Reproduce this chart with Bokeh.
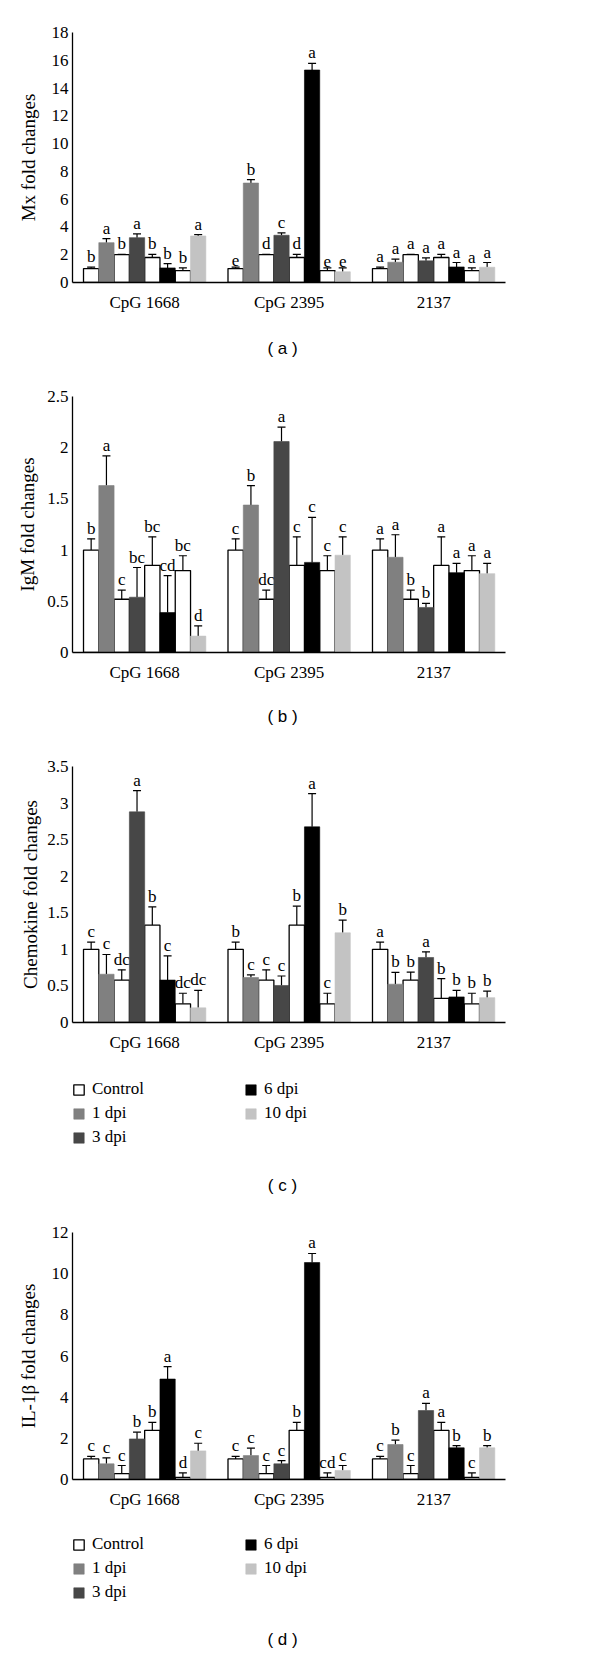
from bokeh.plotting import figure
from bokeh.models import (ColumnDataSource, Range1d, FixedTicker, Whisker, TeeHead,
                          Label, Legend, LegendItem)
from bokeh.layouts import column
from bokeh.embed import file_html
from bokeh.resources import INLINE
from bokeh.core.properties import value

# ---------------- data ----------------
groups = ["CpG 1668", "CpG 2395", "2137"]
bar_treatments = ["Control", "1 dpi", "Control", "3 dpi", "Control", "6 dpi", "Control", "10 dpi"]
treatments = ["Control", "1 dpi", "3 dpi", "6 dpi", "10 dpi"]

# (a) Mx
mx_mean = [[1.0, 2.87, 2.0, 3.23, 1.8, 1.05, 0.86, 3.35],
           [1.0, 7.16, 2.0, 3.4, 1.8, 15.3, 0.86, 0.77],
           [1.0, 1.46, 2.0, 1.56, 1.8, 1.12, 0.86, 1.1]]
mx_err = [[0.1, 0.29, 0.02, 0.27, 0.23, 0.31, 0.19, 0.1],
          [0.1, 0.24, 0.02, 0.17, 0.23, 0.47, 0.19, 0.28],
          [0.1, 0.22, 0.02, 0.21, 0.23, 0.32, 0.19, 0.34]]
mx_letters = [["b", "a", "b", "a", "b", "b", "b", "a"],
              ["e", "b", "d", "c", "d", "a", "e", "e"],
              ["a", "a", "a", "a", "a", "a", "a", "a"]]
mx_ticks = [0, 2, 4, 6, 8, 10, 12, 14, 16, 18]
mx_tick_labels = ["0", "2", "4", "6", "8", "10", "12", "14", "16", "18"]

# (b) IgM
igm_mean = [[1.0, 1.63, 0.52, 0.54, 0.85, 0.39, 0.8, 0.16],
            [1.0, 1.44, 0.52, 2.06, 0.85, 0.88, 0.8, 0.95],
            [1.0, 0.93, 0.52, 0.44, 0.85, 0.78, 0.8, 0.77]]
igm_err = [[0.11, 0.29, 0.09, 0.29, 0.28, 0.36, 0.145, 0.10],
           [0.11, 0.19, 0.09, 0.14, 0.28, 0.44, 0.145, 0.18],
           [0.11, 0.22, 0.09, 0.04, 0.28, 0.09, 0.145, 0.10]]
igm_letters = [["b", "a", "c", "bc", "bc", "cd", "bc", "d"],
               ["c", "b", "dc", "a", "c", "c", "c", "c"],
               ["a", "a", "b", "b", "a", "a", "a", "a"]]
igm_ticks = [0, 0.5, 1, 1.5, 2, 2.5]
igm_tick_labels = ["0", "0.5", "1", "1.5", "2", "2.5"]

# (c) Chemokine
chem_mean = [[1.0, 0.66, 0.58, 2.88, 1.33, 0.58, 0.255, 0.2],
             [1.0, 0.615, 0.58, 0.506, 1.33, 2.675, 0.255, 1.226],
             [1.0, 0.524, 0.58, 0.889, 0.33, 0.35, 0.255, 0.34]]
chem_err = [[0.10, 0.27, 0.14, 0.29, 0.25, 0.33, 0.145, 0.24],
            [0.10, 0.035, 0.14, 0.13, 0.26, 0.455, 0.145, 0.175],
            [0.10, 0.16, 0.11, 0.077, 0.27, 0.09, 0.145, 0.09]]
chem_letters = [["c", "c", "dc", "a", "b", "c", "dc", "dc"],
                ["b", "c", "c", "c", "b", "a", "c", "b"],
                ["a", "b", "b", "a", "b", "b", "b", "b"]]
chem_ticks = [0, 0.5, 1, 1.5, 2, 2.5, 3, 3.5]
chem_tick_labels = ["0", "0.5", "1", "1.5", "2", "2.5", "3", "3.5"]

# (d) IL-1beta
il_mean = [[1.0, 0.76, 0.29, 1.97, 2.39, 4.88, 0.1, 1.39],
           [1.0, 1.16, 0.29, 0.76, 2.39, 10.54, 0.1, 0.44],
           [1.0, 1.70, 0.29, 3.35, 2.39, 1.54, 0.1, 1.54]]
il_err = [[0.12, 0.29, 0.39, 0.33, 0.39, 0.6, 0.22, 0.37],
          [0.12, 0.36, 0.39, 0.16, 0.39, 0.44, 0.22, 0.24],
          [0.12, 0.21, 0.39, 0.35, 0.39, 0.11, 0.22, 0.11]]
il_letters = [["c", "c", "c", "b", "b", "a", "d", "c"],
              ["c", "c", "c", "c", "b", "a", "cd", "c"],
              ["c", "b", "c", "a", "a", "b", "c", "b"]]
il_ticks = [0, 2, 4, 6, 8, 10, 12]
il_tick_labels = ["0", "2", "4", "6", "8", "10", "12"]

# ---------------- styles ----------------
FILL = {"Control": "#ffffff", "1 dpi": "#808080", "3 dpi": "#474747",
        "6 dpi": "#000000", "10 dpi": "#c3c3c3"}
LINE = {"Control": "#000000", "1 dpi": "#808080", "3 dpi": "#474747",
        "6 dpi": "#000000", "10 dpi": "#c3c3c3"}
SERIF = "Liberation Serif"
SANS = "Liberation Sans"
GROUP_PITCH = 9.45
WIDTH = 592
LEFT = 72
FRAME_W = 433
RIGHT = WIDTH - LEFT - FRAME_W
MAIN_BOTTOM = 40

panels = [
    dict(mean=mx_mean, err=mx_err, letters=mx_letters, ticks=mx_ticks, tick_labels=mx_tick_labels,
         ylabel="Mx fold changes", top=32, frame=250, ylab_standoff=10,
         foot_h=50, tag="( a )", tag_y=26, legend=False, legend_top=0),
    dict(mean=igm_mean, err=igm_err, letters=igm_letters, ticks=igm_ticks, tick_labels=igm_tick_labels,
         ylabel="IgM fold changes", top=24, frame=256, ylab_standoff=6,
         foot_h=48, tag="( b )", tag_y=24, legend=False, legend_top=0),
    dict(mean=chem_mean, err=chem_err, letters=chem_letters, ticks=chem_ticks, tick_labels=chem_tick_labels,
         ylabel="Chemokine fold changes", top=26, frame=256, ylab_standoff=3,
         foot_h=143, tag="( c )", tag_y=123, legend=True, legend_top=17),
    dict(mean=il_mean, err=il_err, letters=il_letters, ticks=il_ticks, tick_labels=il_tick_labels,
         ylabel="IL-1β fold changes", top=27, frame=247, ylab_standoff=10,
         foot_h=149, tag="( d )", tag_y=120, legend=True, legend_top=15),
]


def bar_style(tr):
    return dict(fill_color=FILL[tr], line_color=LINE[tr],
                line_width=1.3 if tr == "Control" else 0.6)


def make_panel(spec):
    h = spec["top"] + spec["frame"] + MAIN_BOTTOM
    p = figure(width=WIDTH, height=h, output_backend="svg", toolbar_location=None, title=None,
               x_range=Range1d(-0.72, 27.6), y_range=Range1d(spec["ticks"][0], spec["ticks"][-1]),
               min_border_left=LEFT, min_border_right=RIGHT,
               min_border_top=spec["top"], min_border_bottom=MAIN_BOTTOM)
    p.outline_line_color = None
    p.grid.visible = False
    p.background_fill_color = "white"

    per = {t: dict(x=[], top=[]) for t in treatments}
    wx, wlo, whi, tx, ty, tt = [], [], [], [], [], []
    for g, grp in enumerate(groups):
        for i, tr in enumerate(bar_treatments):
            x = g * GROUP_PITCH + i + 0.5
            m = spec["mean"][g][i]
            e = spec["err"][g][i]
            per[tr]["x"].append(x)
            per[tr]["top"].append(m)
            wx.append(x); wlo.append(m); whi.append(m + e)
            tx.append(x); ty.append(m + e); tt.append(spec["letters"][g][i])

    sources = {}
    for tr in treatments:
        sources[tr] = ColumnDataSource(per[tr])
        p.vbar(x="x", top="top", bottom=0, width=1.0, source=sources[tr], **bar_style(tr))

    wsrc = ColumnDataSource(dict(x=wx, lo=wlo, hi=whi))
    whisk = Whisker(base="x", lower="lo", upper="hi", source=wsrc, line_color="black", line_width=1.2,
                    lower_head=None, upper_head=TeeHead(size=8, line_color="black", line_width=1.2))
    p.add_layout(whisk)

    tsrc = ColumnDataSource(dict(x=tx, y=ty, t=tt))
    p.text(x="x", y="y", text="t", source=tsrc, text_align="center", text_baseline="bottom",
           y_offset=-1, text_font=value(SERIF), text_font_size="17px", text_color="black")

    xa = p.xaxis[0]
    xa.ticker = FixedTicker(ticks=[g * GROUP_PITCH + 4 for g in range(len(groups))])
    xa.major_label_overrides = {g * GROUP_PITCH + 4: grp for g, grp in enumerate(groups)}
    ya = p.yaxis[0]
    ya.ticker = FixedTicker(ticks=spec["ticks"])
    ya.major_label_overrides = {t: l for t, l in zip(spec["ticks"], spec["tick_labels"])}
    for ax in (xa, ya):
        ax.major_tick_line_color = None
        ax.minor_tick_line_color = None
        ax.major_tick_out = 0
        ax.major_tick_in = 0
        ax.minor_tick_out = 0
        ax.minor_tick_in = 0
        ax.axis_line_color = "black"
        ax.axis_line_width = 1.3
        ax.major_label_text_font = SERIF
        ax.major_label_text_font_size = "17px"
        ax.major_label_text_color = "black"
    xa.major_label_standoff = 10
    ya.major_label_standoff = 4
    ya.axis_label = spec["ylabel"]
    ya.axis_label_text_font = SERIF
    ya.axis_label_text_font_size = "19px"
    ya.axis_label_text_font_style = "normal"
    ya.axis_label_text_color = "black"
    ya.axis_label_standoff = spec["ylab_standoff"]
    return p, sources


def make_footer(spec, sources):
    h = spec["foot_h"]
    top = spec["legend_top"]
    # frame spans the same page columns as the panel's frame; data units = page pixels
    f = figure(width=WIDTH, height=h, output_backend="svg", toolbar_location=None, title=None,
               x_range=Range1d(LEFT, LEFT + FRAME_W), y_range=Range1d(h, top),
               x_axis_type=None, y_axis_type=None,
               min_border_left=LEFT, min_border_right=RIGHT, min_border_top=top, min_border_bottom=0)
    f.outline_line_color = None
    f.grid.visible = False
    f.background_fill_color = "white"
    f.border_fill_color = "white"
    if spec["legend"]:
        # legend swatches only: hidden, zero-size glyphs on the panel's data
        f.extra_x_ranges = {"away": Range1d(5000, 5100)}
        f.extra_y_ranges = {"away": Range1d(5000, 5100)}
        rends = {}
        for tr in treatments:
            rends[tr] = f.vbar(x="x", top=0, bottom=0, width=0, source=sources[tr],
                               x_range_name="away", y_range_name="away", visible=False,
                               **bar_style(tr))
        items = [LegendItem(label=t, renderers=[rends[t]]) for t in treatments]
        leg = Legend(items=items, location="top_left",
                     orientation="vertical", nrows=3, click_policy="none",
                     glyph_width=13, glyph_height=13, label_standoff=7, label_width=148,
                     label_height=20, spacing=4, padding=0, margin=0,
                     border_line_color=None, background_fill_alpha=0,
                     inactive_fill_alpha=0)
        leg.label_text_font = SERIF
        leg.label_text_font_size = "17px"
        leg.label_text_color = "black"
        f.add_layout(leg)
    f.add_layout(Label(x=282, y=spec["tag_y"], text=spec["tag"],
                       text_align="center", text_baseline="middle", text_font=SANS,
                       text_font_size="17px", text_color="black"))
    return f


items_out = []
for s in panels:
    p, srcs = make_panel(s)
    items_out.append(p)
    items_out.append(make_footer(s, srcs))
layout = column(*items_out, spacing=0)
open("out.html", "w").write(file_html(layout, INLINE))
